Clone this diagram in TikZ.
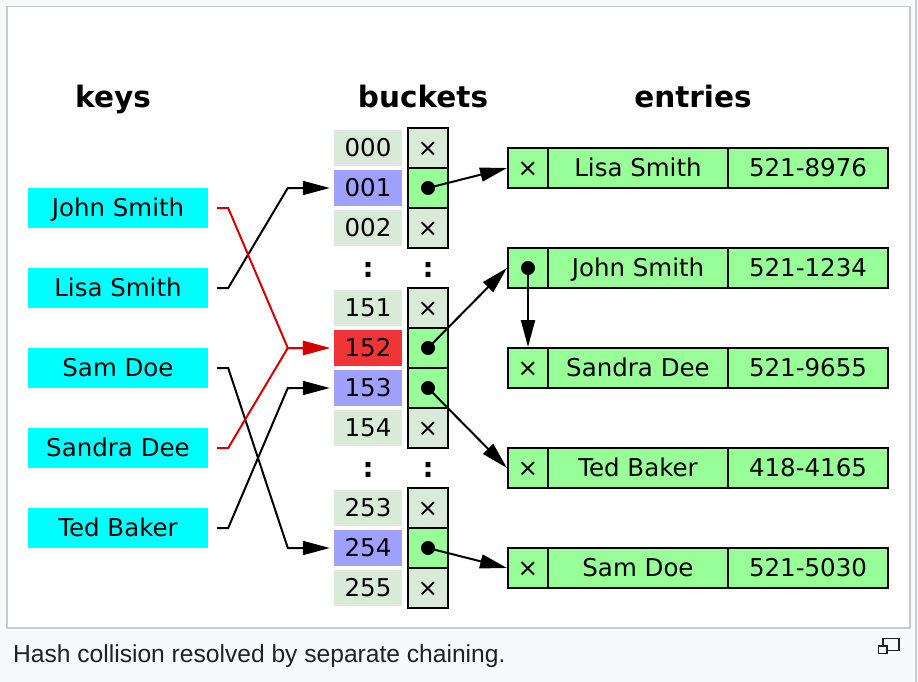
\documentclass[tikz,border=0pt]{standalone}
\usepackage{fontspec}
\setmainfont{DejaVu Sans}
\newfontfamily\captionfont{Liberation Sans}
\usetikzlibrary{arrows.meta,calc}

\definecolor{pagebg}{HTML}{F8F9FA}
\definecolor{framegray}{HTML}{C8CCD1}
\definecolor{keycyan}{HTML}{00FFFF}
\definecolor{idxgreen}{HTML}{D9EAD9}
\definecolor{hitblue}{HTML}{A0A0FF}
\definecolor{hitred}{HTML}{EF3535}
\definecolor{entgreen}{HTML}{98FF98}
\definecolor{linkred}{HTML}{D40000}
\definecolor{captext}{HTML}{202122}

\tikzset{
  cell/.style={inner sep=0pt, text height=16.6pt, text depth=0pt,
    font=\fontsize{24.5}{29}\selectfont},
  keybox/.style={cell, fill=keycyan, minimum width=180pt, minimum height=40pt},
  idxbox/.style={cell, fill=idxgreen, minimum width=68pt, minimum height=36pt},
  ptrbox/.style={cell, draw, line width=2pt, fill=idxgreen,
    minimum width=40pt, minimum height=40pt},
  ptrfull/.style={ptrbox, fill=entgreen},
  entbox/.style={cell, draw, line width=2pt, fill=entgreen, minimum height=40pt},
  entx/.style={entbox, minimum width=40pt},
  entname/.style={entbox, minimum width=180pt},
  entphone/.style={entbox, minimum width=160pt},
  heading/.style={anchor=base, inner sep=0pt, font=\fontsize{29.5}{34}\selectfont\bfseries},
  ellipsis/.style={anchor=base, inner sep=0pt, font=\fontsize{27.5}{32}\selectfont\bfseries},
  keylink/.style={line width=2pt, -{Triangle[length=27pt,width=14pt]}},
  ptrlink/.style={line width=2pt, -{Triangle[length=27pt,width=14pt]}},
  dot/.style={radius=7pt}
}

\begin{document}
\begin{tikzpicture}[x=1pt,y=-1pt]
  % page background and figure frame
  \fill[pagebg] (0,0) rectangle (918,682);
  \useasboundingbox (0,0) rectangle (918,682);
  \draw[framegray, line width=1.5pt, fill=white] (6.75,6.75) rectangle (910,628);
  \draw[framegray, line width=2pt] (916,0) -- (916,682);

  % column headings
  \node[heading] (hkeys) at (113,108) {keys};
  \node[heading] (hbuckets) at (423,108) {buckets};
  \node[heading] (hentries) at (693,108) {entries};

  % keys
  \node[keybox] (kjohn)   at (118,208) {John Smith};
  \node[keybox] (klisa)   at (118,288) {Lisa Smith};
  \node[keybox] (ksam)    at (118,368) {Sam Doe};
  \node[keybox] (ksandra) at (118,448) {Sandra Dee};
  \node[keybox] (kted)    at (118,528) {Ted Baker};

  % bucket indices
  \node[idxbox] (i000) at (368,148) {000};
  \node[idxbox, fill=hitblue] (i001) at (368,188) {001};
  \node[idxbox] (i002) at (368,228) {002};
  \node[idxbox] (i151) at (368,308) {151};
  \node[idxbox, fill=hitred] (i152) at (368,348) {152};
  \node[idxbox, fill=hitblue] (i153) at (368,388) {153};
  \node[idxbox] (i154) at (368,428) {154};
  \node[idxbox] (i253) at (368,508) {253};
  \node[idxbox, fill=hitblue] (i254) at (368,548) {254};
  \node[idxbox] (i255) at (368,588) {255};

  % bucket pointers
  \node[ptrbox]  (p000) at (428,148) {×};
  \node[ptrfull] (p001) at (428,188) {};
  \node[ptrbox]  (p002) at (428,228) {×};
  \node[ptrbox]  (p151) at (428,308) {×};
  \node[ptrfull] (p152) at (428,348) {};
  \node[ptrfull] (p153) at (428,388) {};
  \node[ptrbox]  (p154) at (428,428) {×};
  \node[ptrbox]  (p253) at (428,508) {×};
  \node[ptrfull] (p254) at (428,548) {};
  \node[ptrbox]  (p255) at (428,588) {×};

  % elided rows
  \node[ellipsis] (gapi1) at (368,277) {:};
  \node[ellipsis] (gapp1) at (428,277) {:};
  \node[ellipsis] (gapi2) at (368,477) {:};
  \node[ellipsis] (gapp2) at (428,477) {:};

  % entries
  \node[entx]     (lisax)    at (528,168) {×};
  \node[entname]  (lisan)    at (638,168) {Lisa Smith};
  \node[entphone] (lisap)    at (808,168) {521-8976};
  \node[entx]     (johnx)    at (528,268) {};
  \node[entname]  (johnn)    at (638,268) {John Smith};
  \node[entphone] (johnp)    at (808,268) {521-1234};
  \node[entx]     (sandrax)  at (528,368) {×};
  \node[entname]  (sandran)  at (638,368) {Sandra Dee};
  \node[entphone] (sandrap)  at (808,368) {521-9655};
  \node[entx]     (tedx)     at (528,468) {×};
  \node[entname]  (tedn)     at (638,468) {Ted Baker};
  \node[entphone] (tedp)     at (808,468) {418-4165};
  \node[entx]     (samx)     at (528,568) {×};
  \node[entname]  (samn)     at (638,568) {Sam Doe};
  \node[entphone] (samp)     at (808,568) {521-5030};

  % hash function links from keys to buckets
  \draw[keylink] ($(klisa.east)+(9,0)$) -- ++(11,0)
      -- ($(i001.west)+(-46,0)$) -- ($(i001.west)+(-4,0)$);
  \draw[keylink] ($(ksam.east)+(9,0)$) -- ++(11,0)
      -- ($(i254.west)+(-46,0)$) -- ($(i254.west)+(-4,0)$);
  \draw[keylink] ($(kted.east)+(9,0)$) -- ++(11,0)
      -- ($(i153.west)+(-46,0)$) -- ($(i153.west)+(-4,0)$);
  \draw[keylink, linkred] ($(kjohn.east)+(9,0)$) -- ++(11,0)
      -- ($(i152.west)+(-46,0)$) -- ($(i152.west)+(-4,0)$);
  \draw[keylink, linkred] ($(ksandra.east)+(9,0)$) -- ++(11,0)
      -- ($(i152.west)+(-46,0)$) -- ($(i152.west)+(-4,0)$);

  % bucket and chain pointers
  \draw[ptrlink] (p001.center) -- (lisax.west);
  \draw[ptrlink] (p152.center) -- (johnx.west);
  \draw[ptrlink] (p153.center) -- (tedx.west);
  \draw[ptrlink] (p254.center) -- (samx.west);
  \draw[ptrlink] (johnx.center) -- (sandrax.north);
  \fill (p001.center) circle[dot];
  \fill (p152.center) circle[dot];
  \fill (p153.center) circle[dot];
  \fill (p254.center) circle[dot];
  \fill (johnx.center) circle[dot];

  % caption
  \node[anchor=base west, inner sep=0pt, text=captext,
        font=\captionfont\fontsize{24.6}{28}\selectfont] (caption) at (13,662)
        {Hash collision resolved by separate chaining.};
  \draw[captext, line width=1.3pt] (883,638.5) rectangle (899,650.5);
  \draw[captext, line width=1.3pt, fill=pagebg] (878.5,646) rectangle (887,653.5);
\end{tikzpicture}
\end{document}
